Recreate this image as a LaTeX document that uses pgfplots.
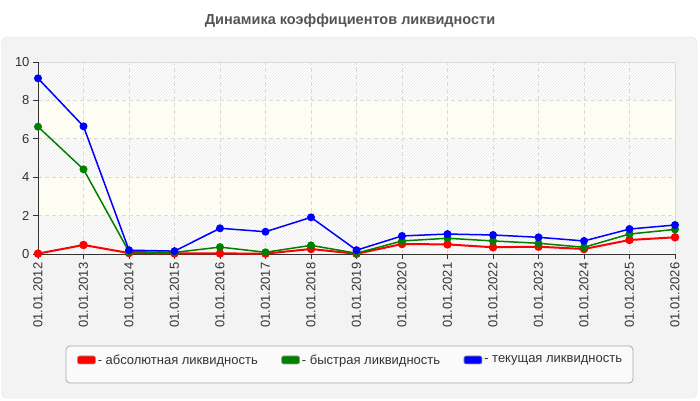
\documentclass[border=0pt]{standalone}
\usepackage{fontspec}
\setmainfont{Liberation Sans}
\usepackage{pgfplots}
\usepackage{pgfplotstable}
\pgfplotsset{compat=1.18}
\usetikzlibrary{patterns}

\definecolor{panelbg}{HTML}{F3F3F3}
\definecolor{panelline}{HTML}{E4E4E4}
\definecolor{gridcol}{HTML}{DADADA}
\definecolor{axiscol}{HTML}{333333}
\definecolor{titlecol}{HTML}{555555}
\definecolor{bandcol}{HTML}{FDFDF4}
\definecolor{hatchcol}{HTML}{E8E8E8}
\definecolor{legbg}{HTML}{FAFAFA}
\definecolor{legline}{HTML}{AAAAAA}
\definecolor{absred}{HTML}{FF0000}
\definecolor{quickgreen}{HTML}{008000}
\definecolor{curblue}{HTML}{0000FF}

% year index, absolute, quick, current liquidity
\pgfplotstableread{
idx  abs   quick  cur
0    0.02  6.63   9.15
1    0.47  4.41   6.65
2    0.05  0.12   0.20
3    0.03  0.08   0.15
4    0.03  0.36   1.34
5    0.02  0.09   1.16
6    0.26  0.45   1.91
7    0.01  0.04   0.20
8    0.52  0.68   0.94
9    0.50  0.82   1.04
10   0.35  0.68   0.99
11   0.38  0.56   0.87
12   0.26  0.35   0.68
13   0.73  1.04   1.30
14   0.87  1.28   1.51
}\liqdata

\begin{document}
\begin{tikzpicture}[x=1pt,y=1pt]
% page and panel
\fill[white] (0,0) rectangle (700,400);
\filldraw[fill=panelbg, draw=panelline, rounded corners=6pt] (1.5,2) rectangle (697,363);
\node[font=\bfseries\fontsize{14.5}{16}\selectfont, text=titlecol] at (350,379) {Динамика коэффициентов ликвидности};

% plot area bands (value v at 146+19.2v)
\fill[white] (38,146) rectangle (675,338);
\foreach \lo/\hi in {146/184.4, 222.8/261.2, 299.6/338}
  \fill[pattern=north east lines, pattern color=hatchcol] (38,\lo) rectangle (675,\hi);
\foreach \lo/\hi in {184.4/222.8, 261.2/299.6}
  \fill[bandcol] (38,\lo) rectangle (675,\hi);
\draw[gridcol, line width=0.8pt] (38,146) rectangle (675,338);

% legend frame
\filldraw[fill=legbg, draw=legline, line width=0.8pt, rounded corners=4pt] (66,17) rectangle (633,54);

\begin{axis}[
  at={(38pt,146pt)}, anchor=south west,
  scale only axis, width=637pt, height=192pt,
  xmin=0, xmax=14, ymin=0, ymax=10,
  clip=false,
  axis lines*=left,
  axis line style={draw=axiscol, line width=0.8pt},
  xtick={0,...,14},
  xticklabels={01.01.2012,01.01.2013,01.01.2014,01.01.2015,01.01.2016,01.01.2017,01.01.2018,01.01.2019,01.01.2020,01.01.2021,01.01.2022,01.01.2023,01.01.2024,01.01.2025,01.01.2026},
  ytick={0,2,...,10},
  tick align=outside,
  major tick length=5pt,
  tick style={draw=axiscol, line width=0.8pt},
  grid=major,
  major grid style={draw=gridcol, line width=0.8pt, dash pattern=on 4pt off 3pt},
  tick label style={font=\fontsize{13}{13}\selectfont, text=axiscol},
  x tick label style={rotate=90, anchor=east},
  /pgf/number format/assume math mode=true,
  legend columns=3,
  legend style={draw=none, fill=none, inner sep=0pt, at={(0.0612,-0.552)}, anchor=west,
    font=\fontsize{13}{13}\selectfont, text=axiscol,
    /tikz/every even column/.append style={column sep=21.5pt}},
  legend image code/.code={\filldraw[#1, draw=gray!80, line width=0.6pt, rounded corners=2pt] (0pt,-4pt) rectangle (18pt,4pt);},
]
\addplot[color=absred, line width=2pt, mark=*, mark size=3.2pt] table[x=idx, y=abs] {\liqdata};
\addplot[color=quickgreen, line width=1.5pt, mark=*, mark size=3.2pt] table[x=idx, y=quick] {\liqdata};
\addplot[color=curblue, line width=1.5pt, mark=*, mark size=3.2pt] table[x=idx, y=cur] {\liqdata};
\legend{- абсолютная ликвидность, - быстрая ликвидность, - текущая ликвидность}
\end{axis}
\end{tikzpicture}
\end{document}
